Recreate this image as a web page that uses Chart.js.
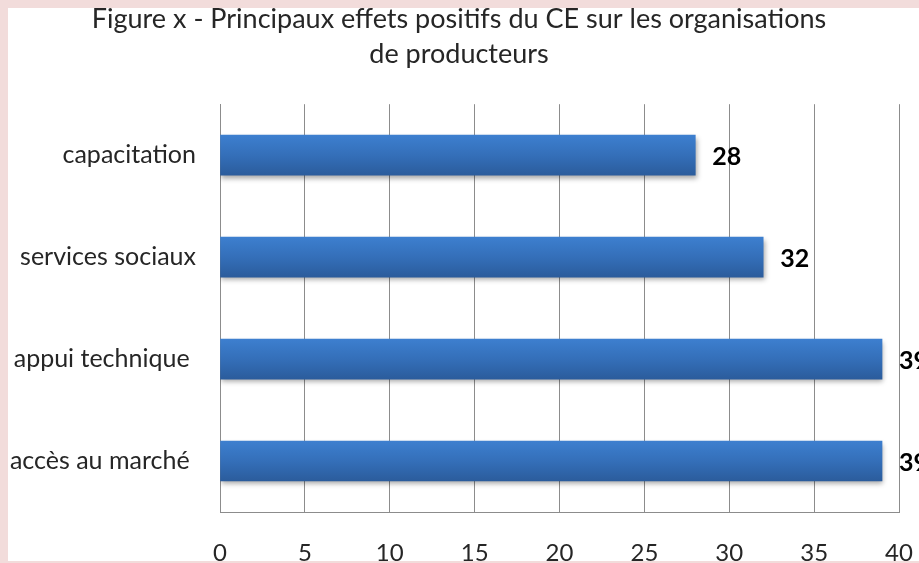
<!DOCTYPE html>
<html>
<head>
<meta charset="utf-8">
<script src="https://cdn.jsdelivr.net/npm/chart.js@4.4.1/dist/chart.umd.min.js"></script>
<style>
  html, body { margin: 0; padding: 0; background: #f2dcdb; }
  #wrap { position: relative; width: 919px; height: 563px; }
</style>
</head>
<body>
<div id="wrap"><canvas id="c" width="919" height="563"></canvas></div>
<script>
// ---- data ----
const categories = ["capacitation", "services sociaux", "appui technique ", "accès au marché "];
const values = [28, 32, 39, 39];
const xTickValues = [0, 5, 10, 15, 20, 25, 30, 35, 40];
const titleLines = ["Figure x - Principaux effets positifs du CE sur les organisations", "de producteurs"];

const FONT = "Lato, 'Open Sans', sans-serif";
const BAR_H = 40;

const frame = {
  id: 'frame',
  beforeDraw(chart) {
    const ctx = chart.ctx;
    ctx.save();
    ctx.fillStyle = '#f2dcdb';
    ctx.fillRect(0, 0, chart.width, chart.height);
    ctx.fillStyle = '#ffffff';
    ctx.fillRect(8, 8, chart.width - 8, chart.height - 10);
    ctx.restore();
  }
};

const shadow = {
  id: 'shadow',
  beforeDatasetDraw(chart) {
    const ctx = chart.ctx;
    ctx.save();
    ctx.shadowColor = 'rgba(0,0,0,0.35)';
    ctx.shadowBlur = 5;
    ctx.shadowOffsetX = 1;
    ctx.shadowOffsetY = 3;
  },
  afterDatasetDraw(chart) {
    chart.ctx.restore();
  }
};

const valueLabels = {
  id: 'valueLabels',
  afterDatasetsDraw(chart) {
    const ctx = chart.ctx;
    const meta = chart.getDatasetMeta(0);
    ctx.save();
    ctx.font = "bold 25px " + FONT;
    ctx.fillStyle = '#000';
    ctx.textAlign = 'left';
    ctx.textBaseline = 'middle';
    meta.data.forEach((bar, i) => {
      ctx.fillText(String(values[i]), bar.x + 17, bar.y + 2);
    });
    ctx.restore();
  }
};

function barGradient(context) {
  const chart = context.chart;
  const ys = chart.scales && chart.scales.y;
  if (!ys || !chart.chartArea || context.dataIndex === undefined) return '#3470b8';
  const cy = ys.getPixelForValue(context.dataIndex);
  if (!Number.isFinite(cy)) return '#3470b8';
  const top = cy - BAR_H / 2;
  const g = chart.ctx.createLinearGradient(0, top, 0, top + BAR_H);
  g.addColorStop(0, '#3d7fcf');
  g.addColorStop(0.5, '#346fb9');
  g.addColorStop(1, '#2b5c9c');
  return g;
}

new Chart(document.getElementById('c'), {
  type: 'bar',
  data: {
    labels: categories,
    datasets: [{
      data: values,
      backgroundColor: barGradient,
      borderWidth: 0,
      barThickness: BAR_H
    }]
  },
  options: {
    indexAxis: 'y',
    responsive: false,
    animation: false,
    layout: { padding: { left: 0, right: 1, top: 0, bottom: 0 } },
    plugins: {
      legend: { display: false },
      tooltip: { enabled: false },
      title: {
        display: true,
        text: titleLines,
        color: '#262626',
        font: { family: FONT, size: 27, weight: 'normal', lineHeight: 1.3 },
        padding: { top: 2, bottom: 32 }
      }
    },
    scales: {
      x: {
        min: 0,
        max: 40,
        afterBuildTicks(axis) { axis.ticks = xTickValues.map(v => ({ value: v })); },
        afterFit(axis) { axis.height = 51; axis.paddingLeft = 0; axis.paddingRight = 20; },
        grid: { color: '#8c8c8c', lineWidth: 1, drawTicks: false },
        border: { display: true, color: '#8c8c8c' },
        ticks: { color: '#262626', font: { family: FONT, size: 24 }, padding: 27, maxRotation: 0 }
      },
      y: {
        afterFit(axis) { axis.width = 220; },
        grid: { display: false, drawTicks: false },
        border: { display: true, color: '#8c8c8c' },
        ticks: { color: '#262626', font: { family: FONT, size: 25 }, padding: 24 }
      }
    }
  },
  plugins: [frame, shadow, valueLabels]
});
</script>
</body>
</html>
